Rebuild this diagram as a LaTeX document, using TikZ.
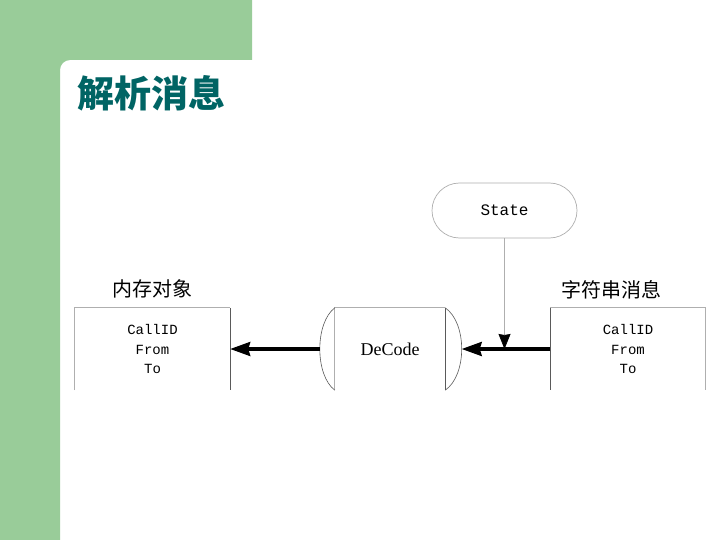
\documentclass[tikz,border=0pt]{standalone}
\usepackage{fontspec}
\setmainfont{Liberation Serif}
\setmonofont{Liberation Mono}
\newfontfamily\cjk{Noto Sans CJK SC}
\usetikzlibrary{positioning, arrows.meta}
\definecolor{slideGreen}{RGB}{153,204,153}
\definecolor{titleTeal}{RGB}{0,100,100}
\definecolor{edgeGray}{RGB}{175,175,175}
\definecolor{edgeDark}{RGB}{90,90,90}

\begin{document}
\begin{tikzpicture}[x=1pt, y=-1pt,
    box/.style={minimum width=155pt, minimum height=82pt, align=center, inner sep=0pt,
                font=\ttfamily\fontsize{14}{19.5}\selectfont},
    boxcap/.style={font=\cjk\fontsize{20}{24}\selectfont, inner sep=0pt},
    side/.style={draw=edgeGray, line width=0.7pt},
    darkside/.style={draw=edgeDark, line width=0.8pt},
    a/.style={-{Stealth[length=20pt, width=14pt, inset=2pt]}, line width=3.2pt, black},
  ]
    \useasboundingbox (0,0) rectangle (720,540);
    \fill[white] (0,0) rectangle (720,540);
    \fill[slideGreen] (0,0) -| (252,60) -- (70,60) arc[start angle=270, end angle=180, radius=10] |- (0,540) -- cycle;
    \node[font=\cjk\bfseries\fontsize{37}{40}\selectfont, text=titleTeal, anchor=west, inner sep=0pt] (title) at (77,93) {解析消息};

    \node[box] (mem) at (152.5,349) {CallID\\From\\To};
    \node[box] (msg) at (628,349) {CallID\\From\\To};
    \node[minimum width=110pt, minimum height=82pt, inner sep=0pt, font=\fontsize{18}{20}\selectfont] (decode) at (390,349) {DeCode};
    \node[side, rounded corners=27.5pt, minimum width=145pt, minimum height=55pt, font=\ttfamily\fontsize{16}{18}\selectfont] (state) at (504.5,210.5) {State};
    \node[boxcap, above=9pt of mem] (memcap) {内存对象};
    \node[boxcap, above=9pt of msg, xshift=-17pt] (msgcap) {字符串消息};

    % open boxes
    \draw[side] (mem.south west) |- (mem.north east);
    \draw[darkside] (mem.north east) -- (mem.south east);
    \draw[side] (msg.north west) -| (msg.south east);
    \draw[darkside] (msg.north west) -- (msg.south west);
    \draw[side] (decode.south west) |- (decode.north east);
    \draw[darkside] (decode.north east) -- (decode.south east);
    \draw[edgeDark, line width=0.6pt] (decode.north west) .. controls +(-20,15) and +(-20,-15) .. (decode.south west);
    \draw[edgeDark, line width=0.6pt] (decode.north east) .. controls +(22,15) and +(22,-15) .. (decode.south east);
    \coordinate (decL) at ([xshift=-15pt]decode.west);
    \coordinate (decR) at ([xshift=16.5pt]decode.east);

    \draw[a] (decL) -- (mem.east);
    \draw[a] (msg.west) -- (decR);
    \draw[edgeGray, line width=0.7pt, -{Stealth[length=15pt, width=12pt, inset=1pt, color=black]}] (state.south) -- (state.south |- msg.west);
  \end{tikzpicture}
\end{document}
